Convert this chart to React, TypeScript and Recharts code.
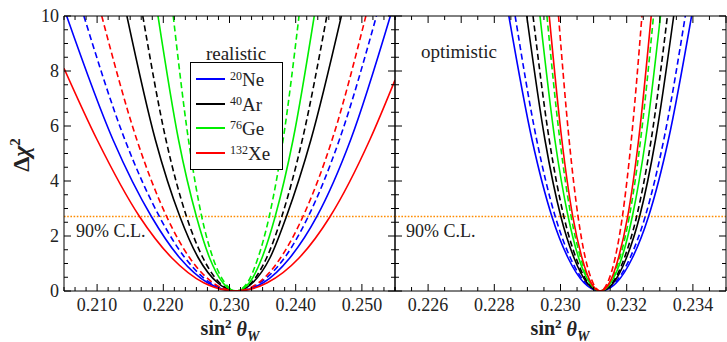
import React from 'react';
import { LineChart, Line, XAxis, YAxis, ReferenceLine } from 'recharts';

const chiLevels = [10, 5.5, 2.71, 1.2, 0.3, 0, 0.3, 1.2, 2.71, 5.5, 10];

// realistic panel, sin²θW positions
const neRealSolid = [0.2054, 0.2124, 0.2182, 0.2225, 0.2267, 0.231, 0.2351, 0.2391, 0.2432, 0.2483, 0.2543];
const neRealDashed = [0.208, 0.2142, 0.2194, 0.2233, 0.2271, 0.231, 0.2346, 0.2383, 0.2419, 0.2466, 0.2522];
const arRealSolid = [0.2145, 0.2188, 0.2225, 0.2253, 0.2282, 0.231, 0.2335, 0.2361, 0.2386, 0.2423, 0.2469];
const arRealDashed = [0.2169, 0.2204, 0.2235, 0.226, 0.2285, 0.231, 0.2333, 0.2356, 0.2379, 0.241, 0.2447];
const geRealSolid = [0.2192, 0.2223, 0.225, 0.227, 0.229, 0.231, 0.233, 0.2349, 0.2369, 0.2396, 0.2428];
const geRealDashed = [0.2215, 0.2238, 0.2258, 0.2275, 0.2293, 0.231, 0.2327, 0.2343, 0.236, 0.2381, 0.2405];
const xeRealDashed = [0.2107, 0.216, 0.2205, 0.224, 0.2275, 0.231, 0.2344, 0.2377, 0.2411, 0.2455, 0.2506];
const xeRealSolidX = [0.205, 0.21, 0.2164, 0.2213, 0.2261, 0.231, 0.2357, 0.2405, 0.2452, 0.2512, 0.255];
const xeRealSolidY = [8.1, 5.5, 2.71, 1.2, 0.3, 0, 0.3, 1.2, 2.71, 5.5, 7.67];

// optimistic panel
const neOptSolid = [0.22844, 0.22914, 0.22974, 0.23023, 0.23071, 0.2312, 0.23169, 0.23217, 0.23266, 0.23326, 0.23396];
const neOptDashed = [0.22863, 0.22928, 0.22984, 0.2303, 0.23075, 0.2312, 0.23165, 0.2321, 0.23256, 0.23312, 0.23377];
const arOptSolid = [0.22898, 0.22953, 0.23001, 0.23041, 0.2308, 0.2312, 0.2316, 0.23199, 0.23239, 0.23287, 0.23342];
const arOptDashed = [0.22917, 0.22966, 0.2301, 0.23047, 0.23083, 0.2312, 0.23157, 0.23193, 0.2323, 0.23274, 0.23323];
const geOptSolid = [0.22938, 0.22983, 0.23023, 0.23055, 0.23088, 0.2312, 0.23152, 0.23185, 0.23217, 0.23257, 0.23302];
const geOptDashed = [0.22959, 0.22998, 0.23032, 0.23061, 0.23091, 0.2312, 0.23149, 0.23179, 0.23208, 0.23242, 0.23281];
const xeOptSolid = [0.22966, 0.23004, 0.23037, 0.23065, 0.23092, 0.2312, 0.23148, 0.23175, 0.23203, 0.23236, 0.23274];
const xeOptDashed = [0.22994, 0.23026, 0.23053, 0.23075, 0.23098, 0.2312, 0.23142, 0.23165, 0.23187, 0.23214, 0.23246];

const realLabelTicks = [0.21, 0.22, 0.23, 0.24, 0.25];
const optLabelTicks = [0.226, 0.228, 0.23, 0.232, 0.234];
const yLabelTicks = [0, 2, 4, 6, 8, 10];
const clLevel = 2.71;

const nuclei = [
  { mass: '20', name: 'Ne', color: '#0000ff' },
  { mass: '40', name: 'Ar', color: '#000000' },
  { mass: '76', name: 'Ge', color: '#00ee00' },
  { mass: '132', name: 'Xe', color: '#ff0000' },
];

const serif = 'Liberation Serif';
const textColor = '#222';

const zip = (xs: number[], ys: number[]) => xs.map((x, i) => ({ x, y: ys[i] }));

interface Curve {
  key: string;
  color: string;
  dashed: boolean;
  points: { x: number; y: number }[];
}

const realCurves: Curve[] = [
  { key: 'ne-s', color: nuclei[0].color, dashed: false, points: zip(neRealSolid, chiLevels) },
  { key: 'ne-d', color: nuclei[0].color, dashed: true, points: zip(neRealDashed, chiLevels) },
  { key: 'ar-s', color: nuclei[1].color, dashed: false, points: zip(arRealSolid, chiLevels) },
  { key: 'ar-d', color: nuclei[1].color, dashed: true, points: zip(arRealDashed, chiLevels) },
  { key: 'ge-s', color: nuclei[2].color, dashed: false, points: zip(geRealSolid, chiLevels) },
  { key: 'ge-d', color: nuclei[2].color, dashed: true, points: zip(geRealDashed, chiLevels) },
  { key: 'xe-s', color: nuclei[3].color, dashed: false, points: zip(xeRealSolidX, xeRealSolidY) },
  { key: 'xe-d', color: nuclei[3].color, dashed: true, points: zip(xeRealDashed, chiLevels) },
];

const optCurves: Curve[] = [
  { key: 'ne-s', color: nuclei[0].color, dashed: false, points: zip(neOptSolid, chiLevels) },
  { key: 'ne-d', color: nuclei[0].color, dashed: true, points: zip(neOptDashed, chiLevels) },
  { key: 'ar-s', color: nuclei[1].color, dashed: false, points: zip(arOptSolid, chiLevels) },
  { key: 'ar-d', color: nuclei[1].color, dashed: true, points: zip(arOptDashed, chiLevels) },
  { key: 'ge-s', color: nuclei[2].color, dashed: false, points: zip(geOptSolid, chiLevels) },
  { key: 'ge-d', color: nuclei[2].color, dashed: true, points: zip(geOptDashed, chiLevels) },
  { key: 'xe-s', color: nuclei[3].color, dashed: false, points: zip(xeOptSolid, chiLevels) },
  { key: 'xe-d', color: nuclei[3].color, dashed: true, points: zip(xeOptDashed, chiLevels) },
];

// tick marks (all of them), the long ones and the labelled ones
const realTicks = Array.from({ length: 31 }, (_, k) => 0.205 + (k * 0.05) / 30);
const optTicks = Array.from({ length: 21 }, (_, k) => 0.225 + k * 0.0005);
const optLongTicks = Array.from({ length: 10 }, (_, k) => 0.226 + k * 0.001);
const yTicks = Array.from({ length: 21 }, (_, k) => k * 0.5);

const near = (list: number[], v: number) => list.some((t) => Math.abs(t - v) < 1e-7);

type Side = 'bottom' | 'top' | 'left' | 'right';

const makeTick =
  (side: Side, longList: number[], labelList: number[], digits: number) =>
  (props: any) => {
    const { x, y, payload } = props;
    const v = payload.value;
    const len = near(longList, v) ? 7 : 4;
    const showLabel = near(labelList, v);
    if (side === 'bottom') {
      return (
        <g>
          <line x1={x} y1={y} x2={x} y2={y - len} stroke="#000" strokeWidth={1} />
          {showLabel && (
            <text x={x} y={y + 20} textAnchor="middle" style={{ fontFamily: serif }} fontSize={18} fill={textColor}>
              {v.toFixed(digits)}
            </text>
          )}
        </g>
      );
    }
    if (side === 'top') {
      return <line x1={x} y1={y} x2={x} y2={y + len} stroke="#000" strokeWidth={1} />;
    }
    if (side === 'left') {
      return (
        <g>
          <line x1={x} y1={y} x2={x + len} y2={y} stroke="#000" strokeWidth={1} />
          {showLabel && (
            <text x={x - 5} y={y + 6} textAnchor="end" style={{ fontFamily: serif }} fontSize={18} fill={textColor}>
              {v.toFixed(digits)}
            </text>
          )}
        </g>
      );
    }
    return <line x1={x} y1={y} x2={x - len} y2={y} stroke="#000" strokeWidth={1} />;
  };

interface PanelProps {
  left: number;
  width: number;
  leftAxisWidth: number;
  rightAxisWidth: number;
  domain: [number, number];
  ticks: number[];
  longTicks: number[];
  labelTicks: number[];
  curves: Curve[];
  yLabels: number[];
}

const axisLine = { stroke: '#000', strokeWidth: 1 };

const Panel: React.FC<PanelProps> = (p) => (
  <div style={{ position: 'absolute', left: p.left, top: 0 }}>
    <LineChart width={p.width} height={342} margin={{ top: 6, right: 0, bottom: 21, left: 0 }}>
      <XAxis
        xAxisId="bottom"
        type="number"
        dataKey="x"
        domain={p.domain}
        ticks={p.ticks}
        interval={0}
        allowDataOverflow
        height={30}
        tickSize={0}
        tickMargin={0}
        tickLine={false}
        axisLine={axisLine}
        tick={makeTick('bottom', p.labelTicks, p.labelTicks, 3)}
      />
      <XAxis
        xAxisId="top"
        orientation="top"
        type="number"
        dataKey="x"
        domain={p.domain}
        ticks={p.ticks}
        interval={0}
        allowDataOverflow
        height={10}
        tickSize={0}
        tickMargin={0}
        tickLine={false}
        axisLine={axisLine}
        tick={makeTick('top', p.longTicks, [], 3)}
      />
      <YAxis
        yAxisId="left"
        type="number"
        domain={[0, 10]}
        ticks={yTicks}
        interval={0}
        allowDataOverflow
        width={p.leftAxisWidth}
        tickSize={0}
        tickMargin={0}
        tickLine={false}
        axisLine={axisLine}
        tick={makeTick('left', yLabelTicks, p.yLabels, 0)}
      />
      <YAxis
        yAxisId="right"
        orientation="right"
        type="number"
        domain={[0, 10]}
        ticks={yTicks}
        interval={0}
        allowDataOverflow
        width={p.rightAxisWidth}
        tickSize={0}
        tickMargin={0}
        tickLine={false}
        axisLine={axisLine}
        tick={makeTick('right', yLabelTicks, [], 0)}
      />
      <ReferenceLine
        xAxisId="bottom"
        yAxisId="left"
        y={clLevel}
        stroke="#ff8c00"
        strokeWidth={1.6}
        strokeDasharray="1.6 1.6"
      />
      {p.curves.map((c) => (
        <Line
          key={c.key}
          xAxisId="bottom"
          yAxisId="left"
          data={c.points}
          dataKey="y"
          type="monotone"
          stroke={c.color}
          strokeWidth={1.6}
          strokeDasharray={c.dashed ? '6 3.5' : undefined}
          dot={false}
          activeDot={false}
          isAnimationActive={false}
        />
      ))}
    </LineChart>
  </div>
);

const abs = (left: number, top: number, extra: React.CSSProperties = {}): React.CSSProperties => ({
  position: 'absolute',
  left,
  top,
  whiteSpace: 'nowrap',
  fontFamily: serif,
  color: textColor,
  lineHeight: 1,
  ...extra,
});

const XTitle: React.FC<{ cx: number }> = ({ cx }) => (
  <div style={abs(cx, 330, { transform: 'translate(-50%, -50%)', fontSize: 20, fontWeight: 'bold' })}>
    sin<sup style={{ fontSize: 13 }}>2</sup>
    {' '}
    <i>
      θ<sub style={{ fontSize: 14 }}>W</sub>
    </i>
  </div>
);

export default function App() {
  const rows = [79, 104, 128, 153];
  return (
    <div style={{ position: 'fixed', left: 0, top: 0, width: 727, height: 342, background: '#fff', overflow: 'hidden' }}>
      <Panel
        left={0}
        width={400}
        leftAxisWidth={64}
        rightAxisWidth={5}
        domain={[0.205, 0.255]}
        ticks={realTicks}
        longTicks={realLabelTicks}
        labelTicks={realLabelTicks}
        curves={realCurves}
        yLabels={yLabelTicks}
      />
      <Panel
        left={390}
        width={337}
        leftAxisWidth={5}
        rightAxisWidth={1}
        domain={[0.225, 0.235]}
        ticks={optTicks}
        longTicks={optLongTicks}
        labelTicks={optLabelTicks}
        curves={optCurves}
        yLabels={[]}
      />

      {/* legend of the realistic panel */}
      <div style={abs(236, 53, { transform: 'translate(-50%, -50%)', fontSize: 19 })}>realistic</div>
      <div
        style={{
          position: 'absolute',
          left: 190,
          top: 62,
          width: 91,
          height: 106,
          border: '1px solid #000',
          background: '#fff',
        }}
      />
      {nuclei.map((n, i) => (
        <React.Fragment key={n.name}>
          <div style={{ position: 'absolute', left: 196, top: rows[i] - 1, width: 29, height: 2, background: n.color }} />
          <div style={abs(230, rows[i], { transform: 'translateY(-45%)', fontSize: 19 })}>
            <sup style={{ fontSize: 12, verticalAlign: '0.5em' }}>{n.mass}</sup>
            {n.name}
          </div>
        </React.Fragment>
      ))}

      <div style={abs(421, 51, { transform: 'translateY(-50%)', fontSize: 19 })}>optimistic</div>
      <div style={abs(76, 231, { transform: 'translateY(-50%)', fontSize: 18 })}>90% C.L.</div>
      <div style={abs(406, 231, { transform: 'translateY(-50%)', fontSize: 18 })}>90% C.L.</div>

      <div
        style={abs(20, 155, {
          transform: 'translate(-50%, -50%) rotate(-90deg)',
          fontSize: 24,
          fontWeight: 'bold',
        })}
      >
        Δ<i>χ</i>
        <sup style={{ fontSize: 15 }}>2</sup>
      </div>
      <XTitle cx={230} />
      <XTitle cx={560} />
    </div>
  );
}
